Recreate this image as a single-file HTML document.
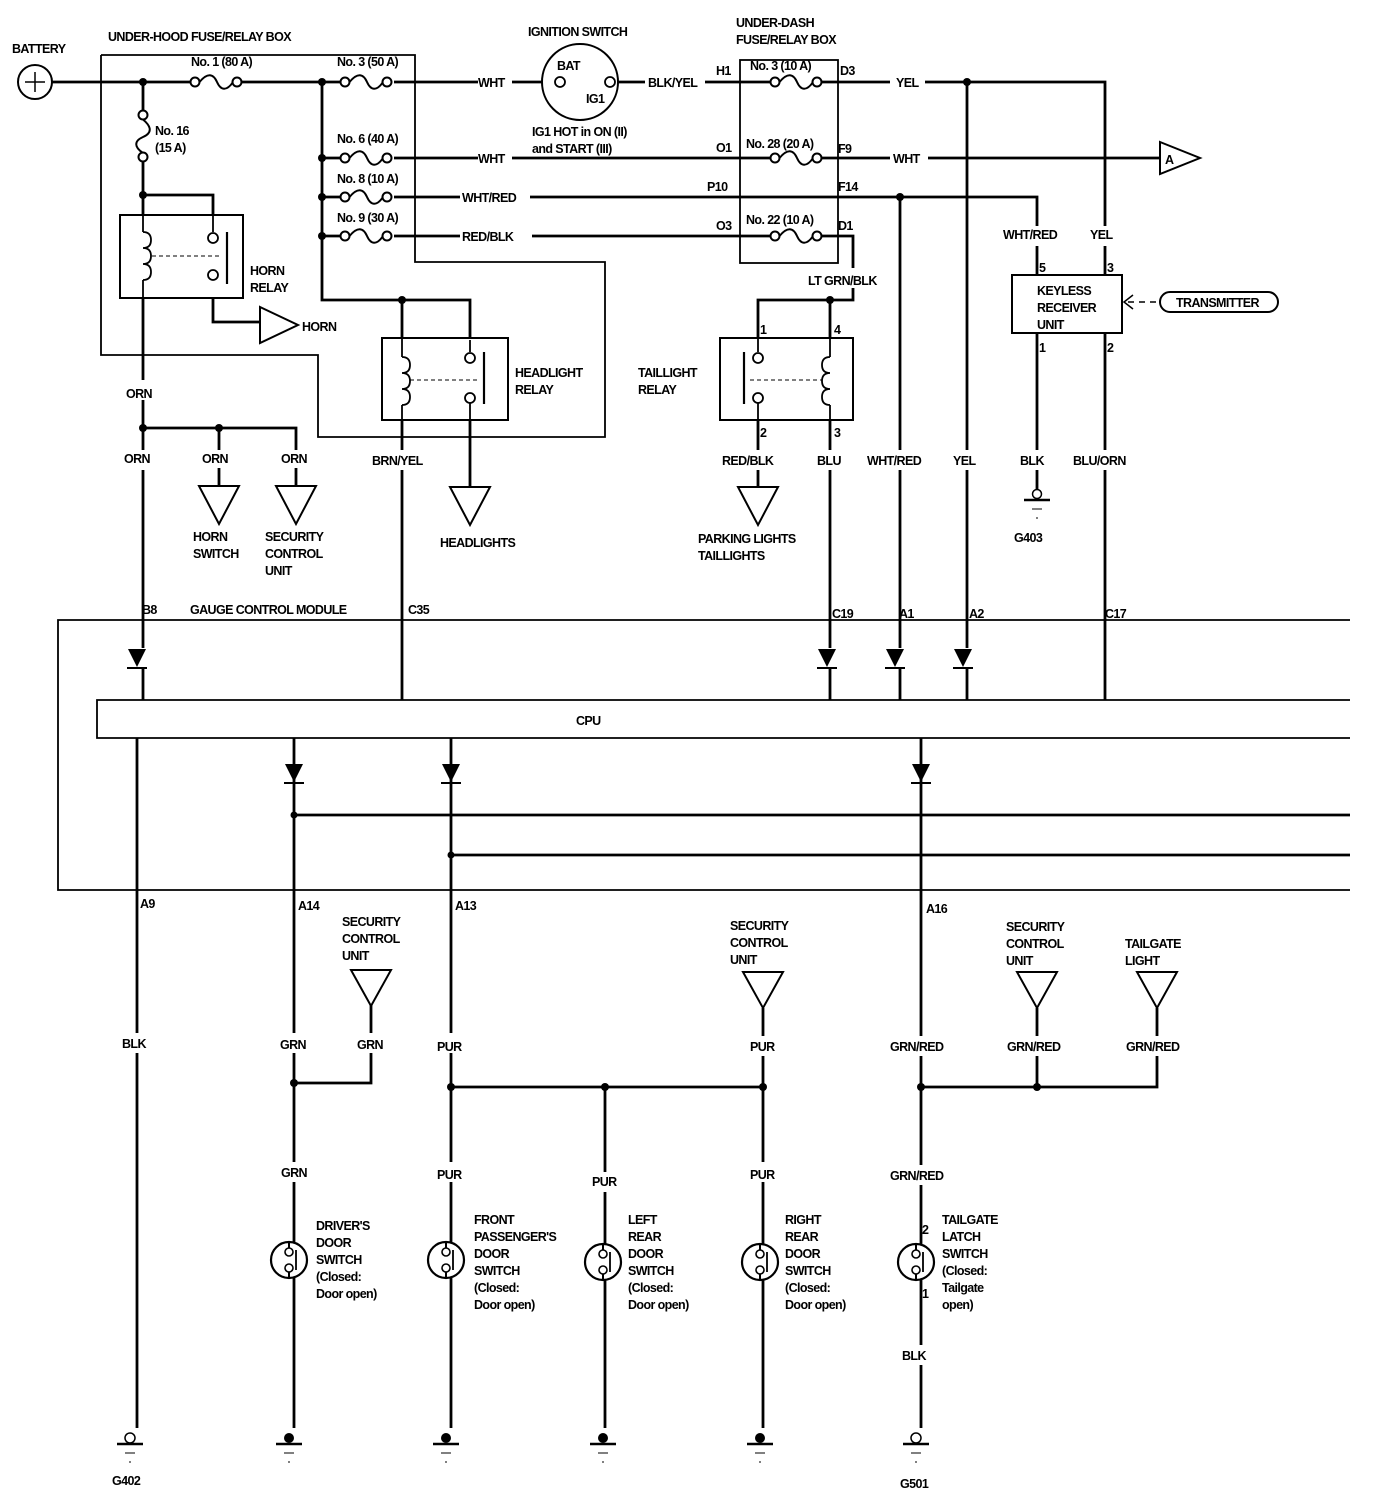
<!DOCTYPE html>
<html><head><meta charset="utf-8"><style>
html,body{margin:0;padding:0;background:#fff}
svg{display:block}
text{font-family:"Liberation Sans",sans-serif;font-weight:bold;font-size:12.5px;fill:#000;letter-spacing:-0.6px}
</style></head><body>
<svg width="1392" height="1502" viewBox="0 0 1392 1502" xmlns="http://www.w3.org/2000/svg">
<defs>
<g id="fuseH"><circle cx="0" cy="0" r="4.5" fill="#fff" stroke="#000" stroke-width="2"/><path d="M4.5,0 C12,-9 18,-9 22,0 C26,9 32,9 38,0" fill="none" stroke="#000" stroke-width="2"/><circle cx="42" cy="0" r="4.5" fill="#fff" stroke="#000" stroke-width="2"/></g>
<g id="diode"><polygon points="-9,-11 9,-11 0,7" fill="#000"/><line x1="-10" y1="8" x2="10" y2="8" stroke="#000" stroke-width="2"/></g>
<g id="tri"><polygon points="-20,0 20,0 0,38" fill="#fff" stroke="#000" stroke-width="2"/></g>
<g id="triS"><polygon points="-20,0 20,0 0,36" fill="#fff" stroke="#000" stroke-width="2"/></g>
<g id="sw"><circle cx="0" cy="0" r="18" fill="#fff" stroke="#000" stroke-width="2.2"/><line x1="0" y1="-18" x2="0" y2="-12" stroke="#000" stroke-width="2"/><line x1="0" y1="12" x2="0" y2="18" stroke="#000" stroke-width="2"/><circle cx="0" cy="-8" r="4" fill="#fff" stroke="#000" stroke-width="1.6"/><circle cx="0" cy="8" r="4" fill="#fff" stroke="#000" stroke-width="1.6"/><line x1="7" y1="-10" x2="7" y2="10" stroke="#000" stroke-width="1.8"/></g>
<g id="gnd"><circle cx="0" cy="-6" r="5" fill="#000"/><line x1="-13" y1="0" x2="13" y2="0" stroke="#000" stroke-width="2.5"/><line x1="-5" y1="9" x2="5" y2="9" stroke="#000" stroke-width="1"/><line x1="-1" y1="18" x2="1" y2="18" stroke="#000" stroke-width="1"/></g>
<g id="gndO"><circle cx="0" cy="-6" r="5" fill="#fff" stroke="#000" stroke-width="1.5"/><line x1="-13" y1="0" x2="13" y2="0" stroke="#000" stroke-width="2.5"/><line x1="-5" y1="9" x2="5" y2="9" stroke="#000" stroke-width="1"/><line x1="-1" y1="18" x2="1" y2="18" stroke="#000" stroke-width="1"/></g>
</defs>

<g fill="none" stroke="#000" stroke-width="1.8">
<polyline points="101,55 415,55 415,262 605,262 605,437 318,437 318,355 101,355 101,55"/>
<rect x="740" y="60" width="98" height="203"/>
<polyline points="1350,620 58,620 58,890 1350,890"/>
<polyline points="1350,700 97,700 97,738 1350,738"/>
</g>
<g fill="none" stroke="#000" stroke-width="2.8">
<line x1="52" y1="82" x2="190" y2="82"/>
<line x1="236" y1="82" x2="340" y2="82"/>
<line x1="394" y1="82" x2="478" y2="82"/>
<line x1="512" y1="82" x2="548" y2="82"/>
<line x1="618" y1="82" x2="645" y2="82"/>
<line x1="705" y1="82" x2="778" y2="82"/>
<line x1="818" y1="82" x2="890" y2="82"/>
<polyline points="925,82 1105,82 1105,226"/>
<line x1="1105" y1="246" x2="1105" y2="275"/>
<line x1="143" y1="82" x2="143" y2="113"/>
<line x1="143" y1="157" x2="143" y2="232"/>
<polyline points="143,195 213,195 213,235"/>
<line x1="143" y1="280" x2="143" y2="380"/>
<line x1="143" y1="400" x2="143" y2="450"/>
<line x1="143" y1="470" x2="143" y2="648"/>
<line x1="143" y1="668" x2="143" y2="700"/>
<polyline points="213,279 213,322 262,322"/>
<polyline points="143,428 296,428 296,450"/>
<line x1="219" y1="428" x2="219" y2="450"/>
<line x1="219" y1="468" x2="219" y2="486"/>
<line x1="296" y1="468" x2="296" y2="486"/>
<polyline points="322,82 322,300 470,300 470,355"/>
<line x1="402" y1="300" x2="402" y2="355"/>
<line x1="402" y1="402" x2="402" y2="450"/>
<line x1="402" y1="470" x2="402" y2="700"/>
<line x1="470" y1="402" x2="470" y2="487"/>
<line x1="322" y1="158" x2="340" y2="158"/>
<line x1="394" y1="158" x2="478" y2="158"/>
<line x1="512" y1="158" x2="778" y2="158"/>
<line x1="818" y1="158" x2="890" y2="158"/>
<line x1="928" y1="158" x2="1160" y2="158"/>
<line x1="322" y1="197" x2="340" y2="197"/>
<line x1="394" y1="197" x2="460" y2="197"/>
<polyline points="530,197 1037,197 1037,226"/>
<line x1="1037" y1="246" x2="1037" y2="275"/>
<line x1="322" y1="236" x2="340" y2="236"/>
<line x1="394" y1="236" x2="460" y2="236"/>
<line x1="532" y1="236" x2="778" y2="236"/>
<polyline points="818,236 853,236 853,268"/>
<polyline points="853,288 853,300 758,300 758,355"/>
<line x1="830" y1="300" x2="830" y2="355"/>
<line x1="758" y1="402" x2="758" y2="450"/>
<line x1="758" y1="470" x2="758" y2="487"/>
<line x1="830" y1="402" x2="830" y2="450"/>
<line x1="830" y1="470" x2="830" y2="648"/>
<line x1="830" y1="668" x2="830" y2="700"/>
<line x1="900" y1="197" x2="900" y2="450"/>
<line x1="900" y1="470" x2="900" y2="648"/>
<line x1="900" y1="668" x2="900" y2="700"/>
<line x1="967" y1="82" x2="967" y2="450"/>
<line x1="967" y1="470" x2="967" y2="648"/>
<line x1="967" y1="668" x2="967" y2="700"/>
<line x1="1037" y1="333" x2="1037" y2="450"/>
<line x1="1037" y1="470" x2="1037" y2="490"/>
<line x1="1105" y1="333" x2="1105" y2="450"/>
<line x1="1105" y1="470" x2="1105" y2="700"/>
<line x1="137" y1="738" x2="137" y2="1033"/>
<line x1="137" y1="1053" x2="137" y2="1428"/>
<line x1="294" y1="738" x2="294" y2="1033"/>
<line x1="294" y1="1053" x2="294" y2="1162"/>
<line x1="294" y1="1182" x2="294" y2="1428"/>
<polyline points="294,1083 371,1083 371,1053"/>
<line x1="371" y1="1033" x2="371" y2="1005"/>
<line x1="451" y1="738" x2="451" y2="1033"/>
<line x1="451" y1="1053" x2="451" y2="1162"/>
<line x1="451" y1="1182" x2="451" y2="1428"/>
<polyline points="451,1087 763,1087 763,1056"/>
<line x1="763" y1="1036" x2="763" y2="1008"/>
<line x1="605" y1="1087" x2="605" y2="1172"/>
<line x1="605" y1="1192" x2="605" y2="1428"/>
<line x1="763" y1="1087" x2="763" y2="1162"/>
<line x1="763" y1="1182" x2="763" y2="1428"/>
<line x1="921" y1="738" x2="921" y2="1036"/>
<line x1="921" y1="1056" x2="921" y2="1165"/>
<line x1="921" y1="1185" x2="921" y2="1345"/>
<line x1="921" y1="1365" x2="921" y2="1428"/>
<polyline points="921,1087 1157,1087 1157,1056"/>
<line x1="1157" y1="1036" x2="1157" y2="1008"/>
<line x1="1037" y1="1087" x2="1037" y2="1056"/>
<line x1="1037" y1="1036" x2="1037" y2="1008"/>
<line x1="294" y1="815" x2="1350" y2="815"/>
<line x1="451" y1="855" x2="1350" y2="855"/>
</g>

<circle cx="35" cy="82" r="17" fill="#fff" stroke="#000" stroke-width="2"/>
<line x1="25" y1="82" x2="45" y2="82" stroke="#000" stroke-width="1.5"/>
<line x1="35" y1="72" x2="35" y2="92" stroke="#000" stroke-width="1.5"/>

<use href="#fuseH" x="195" y="82"/>
<use href="#fuseH" x="345" y="82"/>
<use href="#fuseH" x="345" y="158"/>
<use href="#fuseH" x="345" y="197"/>
<use href="#fuseH" x="345" y="236"/>
<use href="#fuseH" x="775" y="82"/>
<use href="#fuseH" x="775" y="158"/>
<use href="#fuseH" x="775" y="236"/>
<use href="#fuseH" transform="translate(143,115) rotate(90)"/>

<circle cx="580" cy="82" r="38" fill="#fff" stroke="#000" stroke-width="2"/>
<circle cx="560" cy="82" r="5" fill="#fff" stroke="#000" stroke-width="1.8"/>
<circle cx="610" cy="82" r="5" fill="#fff" stroke="#000" stroke-width="1.8"/>

<rect x="120" y="215" width="123" height="83" fill="#fff" stroke="#000" stroke-width="2"/>
<g stroke="#000" stroke-width="1.8" fill="none">
<line x1="143" y1="205" x2="143" y2="232"/>
<path d="M143,232 q8,0 8,8 q0,8 -8,8 q8,0 8,8 q0,8 -8,8 q8,0 8,8 q0,8 -8,8"/>
<line x1="143" y1="280" x2="143" y2="300"/>
<line x1="213" y1="195" x2="213" y2="232"/>
<circle cx="213" cy="238" r="5" fill="#fff"/>
<circle cx="213" cy="275" r="5" fill="#fff"/>
<line x1="227" y1="232" x2="227" y2="284" stroke-width="2.2"/>
<line x1="152" y1="256" x2="222" y2="256" stroke-dasharray="4,3" stroke-width="1"/>
</g>
<polygon points="260,307 298,325 260,343" fill="#fff" stroke="#000" stroke-width="2"/>

<rect x="382" y="338" width="126" height="82" fill="#fff" stroke="#000" stroke-width="2"/>
<g stroke="#000" stroke-width="1.8" fill="none">
<line x1="402" y1="320" x2="402" y2="357"/>
<path d="M402,357 q8,0 8,8 q0,8 -8,8 q8,0 8,8 q0,8 -8,8 q8,0 8,8 q0,8 -8,8"/>
<line x1="402" y1="405" x2="402" y2="440"/>
<line x1="470" y1="340" x2="470" y2="352"/>
<circle cx="470" cy="358" r="5" fill="#fff"/>
<circle cx="470" cy="398" r="5" fill="#fff"/>
<line x1="470" y1="403" x2="470" y2="440"/>
<line x1="484" y1="352" x2="484" y2="404" stroke-width="2.2"/>
<line x1="410" y1="380" x2="478" y2="380" stroke-dasharray="4,3" stroke-width="1"/>
</g>

<rect x="720" y="338" width="133" height="82" fill="#fff" stroke="#000" stroke-width="2"/>
<g stroke="#000" stroke-width="1.8" fill="none">
<line x1="758" y1="320" x2="758" y2="352"/>
<circle cx="758" cy="358" r="5" fill="#fff"/>
<circle cx="758" cy="398" r="5" fill="#fff"/>
<line x1="758" y1="403" x2="758" y2="440"/>
<line x1="744" y1="352" x2="744" y2="404" stroke-width="2.2"/>
<line x1="830" y1="320" x2="830" y2="357"/>
<path d="M830,357 q-8,0 -8,8 q0,8 8,8 q-8,0 -8,8 q0,8 8,8 q-8,0 -8,8 q0,8 8,8"/>
<line x1="830" y1="405" x2="830" y2="440"/>
<line x1="750" y1="380" x2="822" y2="380" stroke-dasharray="4,3" stroke-width="1"/>
</g>

<rect x="1012" y="275" width="110" height="58" fill="#fff" stroke="#000" stroke-width="2"/>
<polyline points="1133,295 1124,302 1133,309" fill="none" stroke="#000" stroke-width="1.5"/>
<line x1="1128" y1="302" x2="1158" y2="302" stroke="#000" stroke-width="1.5" stroke-dasharray="6,5"/>
<rect x="1160" y="292" width="118" height="20" rx="10" fill="#fff" stroke="#000" stroke-width="2"/>

<polygon points="1160,142 1200,158 1160,174" fill="#fff" stroke="#000" stroke-width="2"/>

<use href="#tri" x="219" y="486"/>
<use href="#tri" x="296" y="486"/>
<use href="#tri" x="470" y="487"/>
<use href="#tri" x="758" y="487"/>
<g stroke="#000"><circle cx="1037" cy="494" r="4.5" fill="#fff" stroke-width="1.5"/><line x1="1024" y1="500" x2="1050" y2="500" stroke-width="2.5"/><line x1="1032" y1="509" x2="1042" y2="509" stroke-width="1"/><line x1="1036" y1="518" x2="1038" y2="518" stroke-width="1"/></g>

<use href="#diode" x="137" y="660"/>
<use href="#diode" x="827" y="660"/>
<use href="#diode" x="895" y="660"/>
<use href="#diode" x="963" y="660"/>
<use href="#diode" x="294" y="775"/>
<use href="#diode" x="451" y="775"/>
<use href="#diode" x="921" y="775"/>

<use href="#triS" x="371" y="970"/>
<use href="#triS" x="763" y="972"/>
<use href="#triS" x="1037" y="972"/>
<use href="#triS" x="1157" y="972"/>

<use href="#sw" x="289" y="1260"/>
<use href="#sw" x="446" y="1260"/>
<use href="#sw" x="603" y="1262"/>
<use href="#sw" x="760" y="1262"/>
<use href="#sw" x="916" y="1262"/>

<use href="#gndO" x="130" y="1444"/>
<use href="#gnd" x="289" y="1444"/>
<use href="#gnd" x="446" y="1444"/>
<use href="#gnd" x="603" y="1444"/>
<use href="#gnd" x="760" y="1444"/>
<use href="#gndO" x="916" y="1444"/>

<g fill="#000">
<circle cx="143" cy="82" r="4"/><circle cx="322" cy="82" r="4"/><circle cx="143" cy="195" r="4"/>
<circle cx="322" cy="158" r="4"/><circle cx="322" cy="197" r="4"/><circle cx="322" cy="236" r="4"/>
<circle cx="402" cy="300" r="4"/><circle cx="830" cy="300" r="4"/><circle cx="967" cy="82" r="4"/>
<circle cx="900" cy="197" r="4"/><circle cx="143" cy="428" r="4"/><circle cx="219" cy="428" r="4"/>
<circle cx="294" cy="815" r="3.5"/><circle cx="451" cy="855" r="3.5"/>
<circle cx="294" cy="1083" r="4"/><circle cx="451" cy="1087" r="4"/><circle cx="605" cy="1087" r="4"/><circle cx="763" cy="1087" r="4"/>
<circle cx="921" cy="1087" r="4"/><circle cx="1037" cy="1087" r="4"/>
</g>

<text x="12" y="53">BATTERY</text>
<text x="108" y="41">UNDER-HOOD FUSE/RELAY BOX</text>
<text x="191" y="66">No. 1 (80 A)</text>
<text x="337" y="66">No. 3 (50 A)</text>
<text x="155" y="135">No. 16</text>
<text x="155" y="152">(15 A)</text>
<text x="337" y="143">No. 6 (40 A)</text>
<text x="337" y="183">No. 8 (10 A)</text>
<text x="337" y="222">No. 9 (30 A)</text>
<text x="478" y="87">WHT</text>
<text x="478" y="163">WHT</text>
<text x="462" y="202">WHT/RED</text>
<text x="462" y="241">RED/BLK</text>
<text x="528" y="36">IGNITION SWITCH</text>
<text x="557" y="70">BAT</text>
<text x="586" y="103">IG1</text>
<text x="532" y="136">IG1 HOT in ON (II)</text>
<text x="532" y="153">and START (III)</text>
<text x="648" y="87">BLK/YEL</text>
<text x="736" y="27">UNDER-DASH</text>
<text x="736" y="44">FUSE/RELAY BOX</text>
<text x="716" y="75">H1</text>
<text x="750" y="70">No. 3 (10 A)</text>
<text x="840" y="75">D3</text>
<text x="896" y="87">YEL</text>
<text x="716" y="152">O1</text>
<text x="746" y="148">No. 28 (20 A)</text>
<text x="838" y="153">F9</text>
<text x="893" y="163">WHT</text>
<text x="707" y="191">P10</text>
<text x="838" y="191">F14</text>
<text x="716" y="230">O3</text>
<text x="746" y="224">No. 22 (10 A)</text>
<text x="838" y="230">D1</text>
<text x="808" y="285">LT GRN/BLK</text>
<text x="1165" y="164">A</text>
<text x="1003" y="239">WHT/RED</text>
<text x="1090" y="239">YEL</text>
<text x="1039" y="272">5</text>
<text x="1107" y="272">3</text>
<text x="1037" y="295">KEYLESS</text>
<text x="1037" y="312">RECEIVER</text>
<text x="1037" y="329">UNIT</text>
<text x="1039" y="352">1</text>
<text x="1107" y="352">2</text>
<text x="1176" y="307">TRANSMITTER</text>
<text x="250" y="275">HORN</text>
<text x="250" y="292">RELAY</text>
<text x="302" y="331">HORN</text>
<text x="515" y="377">HEADLIGHT</text>
<text x="515" y="394">RELAY</text>
<text x="638" y="377">TAILLIGHT</text>
<text x="638" y="394">RELAY</text>
<text x="760" y="334">1</text>
<text x="834" y="334">4</text>
<text x="760" y="437">2</text>
<text x="834" y="437">3</text>
<text x="126" y="398">ORN</text>
<text x="124" y="463">ORN</text>
<text x="202" y="463">ORN</text>
<text x="281" y="463">ORN</text>
<text x="372" y="465">BRN/YEL</text>
<text x="722" y="465">RED/BLK</text>
<text x="817" y="465">BLU</text>
<text x="867" y="465">WHT/RED</text>
<text x="953" y="465">YEL</text>
<text x="1020" y="465">BLK</text>
<text x="1073" y="465">BLU/ORN</text>
<text x="193" y="541">HORN</text>
<text x="193" y="558">SWITCH</text>
<text x="265" y="541">SECURITY</text>
<text x="265" y="558">CONTROL</text>
<text x="265" y="575">UNIT</text>
<text x="440" y="547">HEADLIGHTS</text>
<text x="698" y="543">PARKING LIGHTS</text>
<text x="698" y="560">TAILLIGHTS</text>
<text x="1014" y="542">G403</text>
<text x="142" y="614">B8</text>
<text x="190" y="614">GAUGE CONTROL MODULE</text>
<text x="408" y="614">C35</text>
<text x="832" y="618">C19</text>
<text x="899" y="618">A1</text>
<text x="969" y="618">A2</text>
<text x="1105" y="618">C17</text>
<text x="576" y="725">CPU</text>
<text x="140" y="908">A9</text>
<text x="298" y="910">A14</text>
<text x="455" y="910">A13</text>
<text x="926" y="913">A16</text>
<text x="342" y="926">SECURITY</text>
<text x="342" y="943">CONTROL</text>
<text x="342" y="960">UNIT</text>
<text x="730" y="930">SECURITY</text>
<text x="730" y="947">CONTROL</text>
<text x="730" y="964">UNIT</text>
<text x="1006" y="931">SECURITY</text>
<text x="1006" y="948">CONTROL</text>
<text x="1006" y="965">UNIT</text>
<text x="1125" y="948">TAILGATE</text>
<text x="1125" y="965">LIGHT</text>
<text x="122" y="1048">BLK</text>
<text x="280" y="1049">GRN</text>
<text x="357" y="1049">GRN</text>
<text x="437" y="1051">PUR</text>
<text x="750" y="1051">PUR</text>
<text x="890" y="1051">GRN/RED</text>
<text x="1007" y="1051">GRN/RED</text>
<text x="1126" y="1051">GRN/RED</text>
<text x="281" y="1177">GRN</text>
<text x="437" y="1179">PUR</text>
<text x="592" y="1186">PUR</text>
<text x="750" y="1179">PUR</text>
<text x="890" y="1180">GRN/RED</text>
<text x="316" y="1230">DRIVER'S</text>
<text x="316" y="1247">DOOR</text>
<text x="316" y="1264">SWITCH</text>
<text x="316" y="1281">(Closed:</text>
<text x="316" y="1298">Door open)</text>
<text x="474" y="1224">FRONT</text>
<text x="474" y="1241">PASSENGER'S</text>
<text x="474" y="1258">DOOR</text>
<text x="474" y="1275">SWITCH</text>
<text x="474" y="1292">(Closed:</text>
<text x="474" y="1309">Door open)</text>
<text x="628" y="1224">LEFT</text>
<text x="628" y="1241">REAR</text>
<text x="628" y="1258">DOOR</text>
<text x="628" y="1275">SWITCH</text>
<text x="628" y="1292">(Closed:</text>
<text x="628" y="1309">Door open)</text>
<text x="785" y="1224">RIGHT</text>
<text x="785" y="1241">REAR</text>
<text x="785" y="1258">DOOR</text>
<text x="785" y="1275">SWITCH</text>
<text x="785" y="1292">(Closed:</text>
<text x="785" y="1309">Door open)</text>
<text x="922" y="1234">2</text>
<text x="922" y="1298">1</text>
<text x="942" y="1224">TAILGATE</text>
<text x="942" y="1241">LATCH</text>
<text x="942" y="1258">SWITCH</text>
<text x="942" y="1275">(Closed:</text>
<text x="942" y="1292">Tailgate</text>
<text x="942" y="1309">open)</text>
<text x="902" y="1360">BLK</text>
<text x="112" y="1485">G402</text>
<text x="900" y="1488">G501</text>
</svg>
</body></html>
